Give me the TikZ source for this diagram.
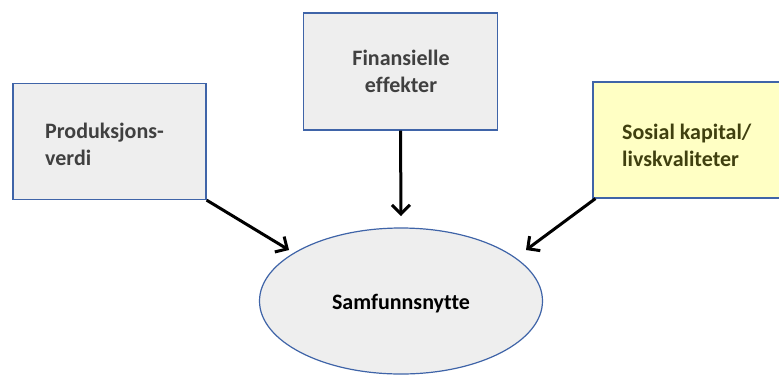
\documentclass[tikz,border=0pt]{standalone}
\usepackage{fontspec}
\setmainfont{Carlito}[Ligatures=CommonOff]
\usetikzlibrary{arrows.meta,shapes.geometric}
\definecolor{boxgray}{HTML}{EEEEEE}
\definecolor{boxyellow}{HTML}{FFFFC4}
\definecolor{edgeblue}{HTML}{3F64A8}
\definecolor{txtgray}{HTML}{404040}
\definecolor{txtolive}{HTML}{40400F}
\tikzset{
  box/.style={draw=edgeblue, line width=1.2pt, fill=boxgray, rectangle, inner sep=0pt},
  lbl/.style={font=\fontsize{22}{27}\selectfont\bfseries, inner sep=0pt},
  arr/.style={line width=3pt, -{Straight Barb[length=9pt,width=18pt,line width=3pt]}},
}
\begin{document}
\begin{tikzpicture}[x=1pt,y=-1pt]
\useasboundingbox[fill=white] (0,0) rectangle (779,376);
\node[box, minimum width=193pt, minimum height=116pt] (prod) at (109.5,141.5) {};
\node[box, minimum width=194pt, minimum height=117pt] (fin) at (400.5,71.5) {};
\node[box, fill=boxyellow, minimum width=196pt, minimum height=116pt] (sos) at (691,140) {};
\node[draw=edgeblue, line width=1.2pt, fill=boxgray, ellipse, minimum width=283pt, minimum height=146pt, inner sep=0pt] (sam) at (401,301) {};
\node[lbl, text=txtgray, align=left, anchor=base west] (tprod) at (45,165) {Produksjons-\\verdi};
\node[lbl, text=txtgray, align=center, anchor=base] (tfin) at (401,92) {Finansielle\\effekter};
\node[lbl, text=txtolive, align=left, anchor=base west] (tsos) at (622,166) {Sosial kapital/\\livskvaliteter};
\node[lbl, text=black, anchor=base] (tsam) at (401,309) {Samfunnsnytte};
\coordinate (a1) at (289,250);
\coordinate (a2) at (401,216);
\coordinate (a3) at (526,250);
\draw[arr] (prod.south east) -- (a1);
\draw[arr] (fin.south) -- (a2);
\draw[arr] (sos.south west) ++(3,0) -- (a3);
\end{tikzpicture}
\end{document}
